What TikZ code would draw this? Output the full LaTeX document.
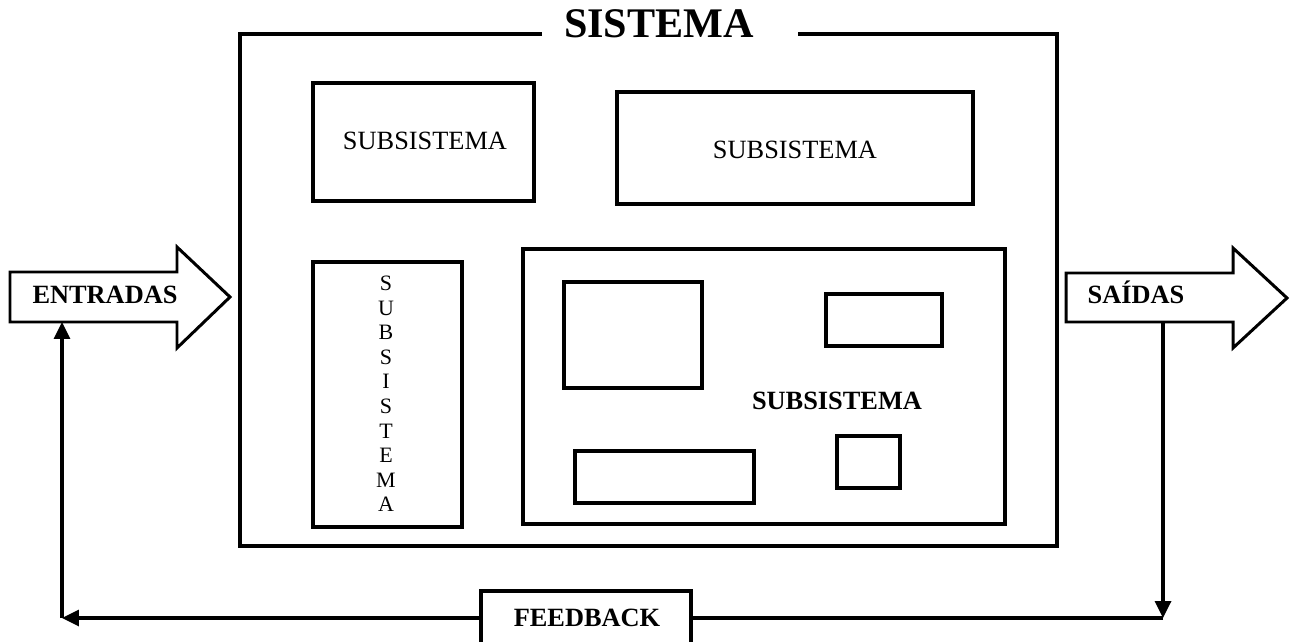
\documentclass[tikz,border=0pt]{standalone}
\usepackage{fontspec}
\setmainfont{Liberation Serif}
\usetikzlibrary{arrows.meta,fit,positioning}

\tikzset{
	box/.style={draw, line width=2pt, inner sep=0pt},
	flow/.style={line width=1.9pt, -{Triangle[length=3.4mm,width=3.2mm]}},
	blockarrow/.style={draw, line width=1.7pt, fill=white, line join=miter},
	label15/.style={anchor=base, font=\fontsize{15}{18}\selectfont},
	bold15/.style={anchor=base, font=\fontsize{15}{18}\selectfont\bfseries},
}

\begin{document}
\begin{tikzpicture}[x=0.02cm, y=-0.02cm]
		\useasboundingbox (0,0) rectangle (1291,642);
		\clip (0,0) rectangle (1291,642);
		% sistema
		\draw[line width=2pt] (542,34) -- (240,34) -- (240,546) -- (1057,546) -- (1057,34) -- (798,34);
		\node[anchor=base, font=\fontsize{24}{28}\selectfont\bfseries] (sistema) at (659,38) {SISTEMA};
		% subsistemas
		\node[box, fit={(313,83) (534,201)}] (sub1) {};
		\node[label15] (sub1label) at (425,150) {SUBSISTEMA};
		\node[box, fit={(617,92) (973,204)}] (sub2) {};
		\node[label15] (sub2label) at (795,158) {SUBSISTEMA};
		\node[box, fit={(313,262) (462,527)}] (sub3) {};
		\node[align=center, font=\fontsize{12.5}{14}\selectfont] (sub3label) at (386,394) {S\\U\\B\\S\\I\\S\\T\\E\\M\\A};
		\node[box, fit={(523,249) (1005,524)}] (sub4) {};
		\node[box, fit={(564,282) (702,388)}] (sub4a) {};
		\node[box, fit={(826,294) (942,346)}] (sub4b) {};
		\node[box, fit={(575,451) (754,503)}] (sub4c) {};
		\node[box, fit={(837,436) (900,488)}] (sub4d) {};
		\node[bold15] (sub4label) at (837,409) {SUBSISTEMA};
		% entradas / saidas
		\draw[blockarrow] (10,272) -- (177,272) -- (177,247) -- (230,297) -- (177,348) -- (177,322) -- (10,322) -- cycle;
		\node[bold15] (entradas) at (105,303) {ENTRADAS};
		\draw[blockarrow] (1066,273) -- (1233,273) -- (1233,248) -- (1287,298) -- (1233,348) -- (1233,322) -- (1066,322) -- cycle;
		\node[bold15] (saidas) at (1136,303) {SAÍDAS};
		% feedback
		\coordinate (saidasfoot) at (1163,322);
		\coordinate (fbright) at (1163,618);
		\coordinate (fbleft) at (62,618);
		\coordinate (entradasfoot) at (62,322);
		\node[box, fill=white, fit={(481,591) (691,645)}] (feedback) {};
		\node[bold15] (feedbacklabel) at (587,626) {FEEDBACK};
		\draw[flow] (saidasfoot) -- (fbright);
		\draw[line width=1.9pt] (fbright) -- (feedback.east);
		\draw[flow] (feedback.west) -- (fbleft);
		\draw[flow] (fbleft) -- (entradasfoot);
	\end{tikzpicture}
\end{document}
